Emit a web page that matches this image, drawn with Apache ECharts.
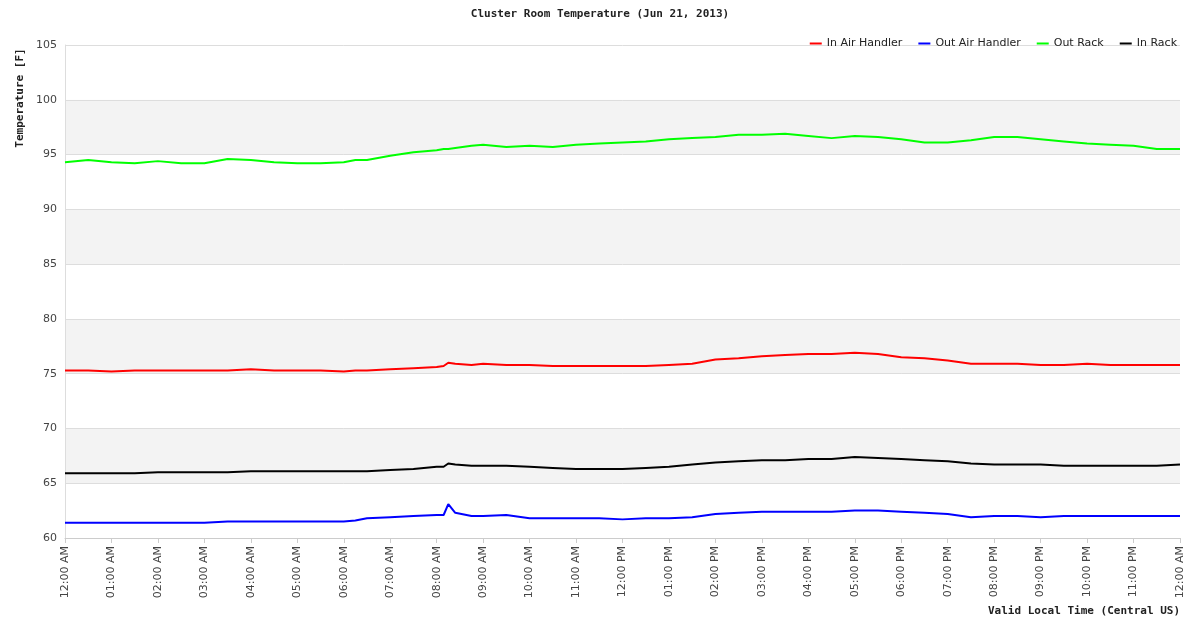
<!DOCTYPE html>
<html>
<head>
<meta charset="utf-8">
<script src="https://cdn.jsdelivr.net/npm/echarts@6/dist/echarts.min.js"></script>
<style>html,body{margin:0;padding:0;background:#fff}#chart{width:1200px;height:628px}</style>
</head>
<body>
<div id="chart"></div>
<script>
// hours since midnight
const hours = [0,0.5,1,1.5,2,2.5,3,3.5,4,4.5,5,5.5,6,6.25,6.5,7,7.5,8,8.15,8.25,8.4,8.75,9,9.5,10,10.5,11,11.5,12,12.5,13,13.5,14,14.5,15,15.5,16,16.5,17,17.5,18,18.5,19,19.5,20,20.5,21,21.5,22,22.5,23,23.5,24]
const inAirHandler = [75.3,75.3,75.2,75.3,75.3,75.3,75.3,75.3,75.4,75.3,75.3,75.3,75.2,75.3,75.3,75.4,75.5,75.6,75.7,76.0,75.9,75.8,75.9,75.8,75.8,75.7,75.7,75.7,75.7,75.7,75.8,75.9,76.3,76.4,76.6,76.7,76.8,76.8,76.9,76.8,76.5,76.4,76.2,75.9,75.9,75.9,75.8,75.8,75.9,75.8,75.8,75.8,75.8]
const outAirHandler = [61.4,61.4,61.4,61.4,61.4,61.4,61.4,61.5,61.5,61.5,61.5,61.5,61.5,61.6,61.8,61.9,62.0,62.1,62.1,63.1,62.3,62.0,62.0,62.1,61.8,61.8,61.8,61.8,61.7,61.8,61.8,61.9,62.2,62.3,62.4,62.4,62.4,62.4,62.5,62.5,62.4,62.3,62.2,61.9,62.0,62.0,61.9,62.0,62.0,62.0,62.0,62.0,62.0]
const outRack = [94.3,94.5,94.3,94.2,94.4,94.2,94.2,94.6,94.5,94.3,94.2,94.2,94.3,94.5,94.5,94.9,95.2,95.4,95.5,95.5,95.6,95.8,95.9,95.7,95.8,95.7,95.9,96.0,96.1,96.2,96.4,96.5,96.6,96.8,96.8,96.9,96.7,96.5,96.7,96.6,96.4,96.1,96.1,96.3,96.6,96.6,96.4,96.2,96.0,95.9,95.8,95.5,95.5]
const inRack = [65.9,65.9,65.9,65.9,66.0,66.0,66.0,66.0,66.1,66.1,66.1,66.1,66.1,66.1,66.1,66.2,66.3,66.5,66.5,66.8,66.7,66.6,66.6,66.6,66.5,66.4,66.3,66.3,66.3,66.4,66.5,66.7,66.9,67.0,67.1,67.1,67.2,67.2,67.4,67.3,67.2,67.1,67.0,66.8,66.7,66.7,66.7,66.6,66.6,66.6,66.6,66.6,66.7]
const seriesNames = ['In Air Handler','Out Air Handler','Out Rack','In Rack']
const seriesColors = ['#ff0000','#0000ff','#00ff00','#000000']
const seriesData = [inAirHandler, outAirHandler, outRack, inRack]

function hourLabel (h) {
  const hh = h % 24
  const ampm = hh < 12 ? 'AM' : 'PM'
  let d = hh % 12
  if (d === 0) d = 12
  return (d < 10 ? '0' + d : d) + ':00 ' + ampm
}

const chart = echarts.init(document.getElementById('chart'))
chart.setOption({
  animation: false,
  backgroundColor: '#fff',
  title: {
    text: 'Cluster Room Temperature (Jun 21, 2013)',
    left: 'center', top: 4,
    textStyle: { fontFamily: 'DejaVu Sans Mono', fontSize: 11, fontWeight: 'bold', color: '#222' }
  },
  // y axis title sits at the top of the axis
  graphic: [{
    type: 'text', x: 20, y: 98, rotation: Math.PI / 2,
    style: { text: 'Temperature [F]', font: 'bold 11px "DejaVu Sans Mono"', fill: '#222',
      align: 'center', verticalAlign: 'middle' }
  }],
  legend: {
    right: 18, top: 33, itemGap: 16, itemWidth: 12, itemHeight: 2,
    icon: 'rect',
    textStyle: { fontFamily: 'DejaVu Sans', fontSize: 11, color: '#222' },
    data: seriesNames
  },
  grid: { left: 65, right: 20, top: 45, bottom: 90 },
  xAxis: {
    type: 'value', min: 0, max: 24, interval: 1,
    name: 'Valid Local Time (Central US)', nameLocation: 'end',
    nameGap: 0,
    nameTextStyle: { fontFamily: 'DejaVu Sans Mono', fontWeight: 'bold', fontSize: 11, color: '#222',
      align: 'right', verticalAlign: 'top', padding: [68, 0, 0, 0] },
    axisLine: { lineStyle: { color: '#ccc' } },
    axisTick: { lineStyle: { color: '#ccc' } },
    splitLine: { show: false },
    axisLabel: { rotate: 90, formatter: hourLabel, fontFamily: 'DejaVu Sans', fontSize: 11, color: '#444' }
  },
  yAxis: {
    type: 'value', min: 60, max: 105, interval: 5,
    position: 'left',
    axisLine: { show: true, lineStyle: { color: '#ddd' } },
    axisTick: { show: false },
    splitLine: { lineStyle: { color: '#ddd' } },
    splitArea: { show: true, areaStyle: { color: ['#ffffff', '#f3f3f3'] } },
    axisLabel: { fontFamily: 'DejaVu Sans', fontSize: 11, color: '#444' }
  },
  series: seriesNames.map((n, i) => ({
    name: n, type: 'line', showSymbol: false,
    color: seriesColors[i],
    lineStyle: { width: 2, color: seriesColors[i] },
    data: hours.map((h, j) => [h, seriesData[i][j]])
  }))
})
</script>
</body>
</html>
